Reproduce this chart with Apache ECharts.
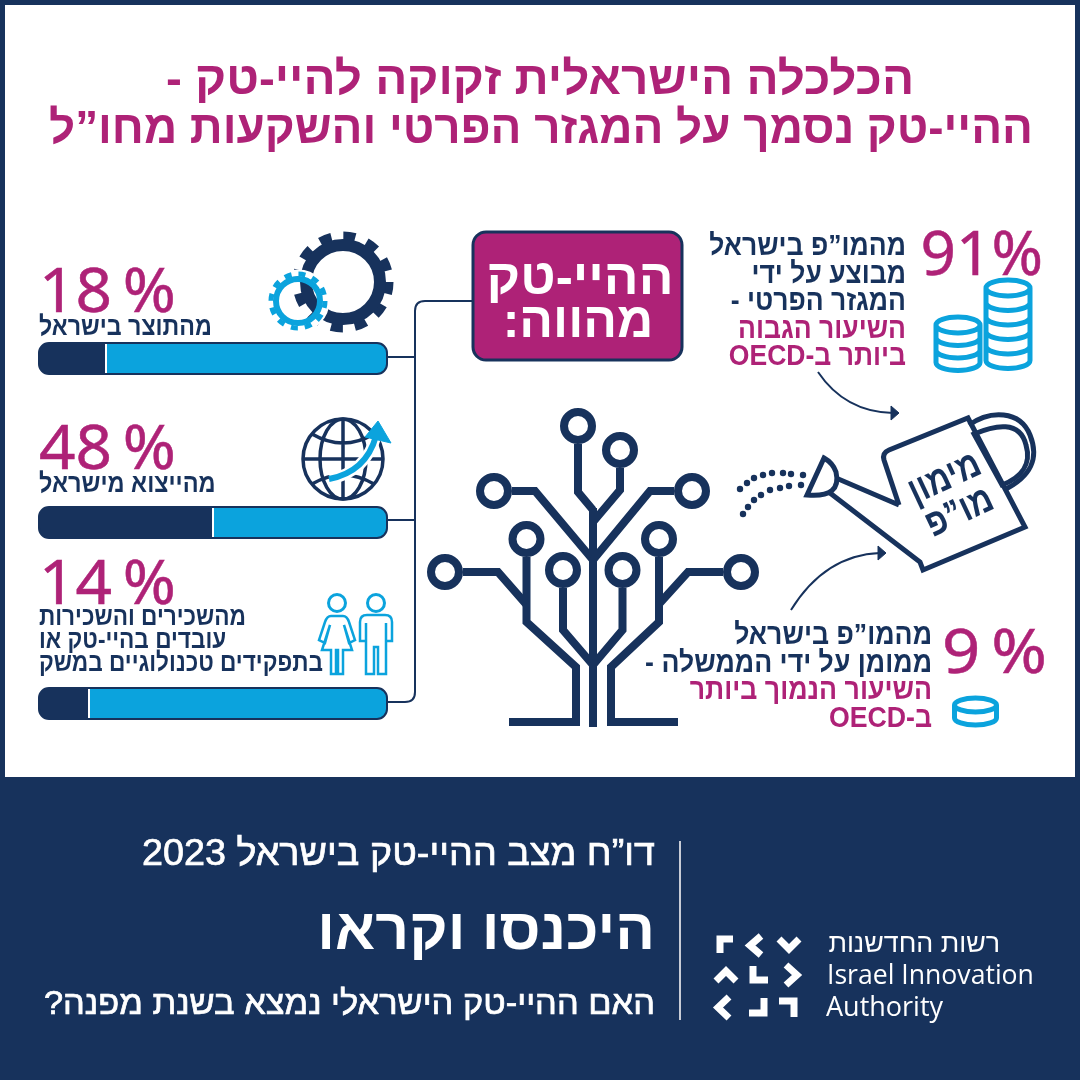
<![CDATA[<!DOCTYPE html>
<html lang="he" dir="rtl">
<head>
<meta charset="UTF-8">
<title>הכלכלה הישראלית זקוקה להיי-טק</title>
<script src="https://cdn.jsdelivr.net/npm/echarts@6/dist/echarts.min.js"></script>
<style>
html, body { margin: 0; padding: 0; background: #17325c; }
#chart { width: 1080px; height: 1080px; }
</style>
</head>
<body>
<div id="chart"></div>
<script>
// values
const titleLines = ['הכלכלה הישראלית זקוקה להיי-טק -', 'ההיי-טק נסמך על המגזר הפרטי והשקעות מחו”ל'];
const barCategories = ['מהתוצר בישראל', 'מהייצוא מישראל', 'מהשכירים והשכירות'];
const statedShares = [18, 48, 14];
// bar lengths as drawn in the picture, they run a little over the printed number
const drawnShares = [19.2, 50, 14.2];
const restShares = [80.8, 50, 85.8];
const privateShare = 91;
const governmentShare = 9;
const employeeLines = ['מהשכירים והשכירות', 'עובדים בהיי-טק או', 'בתפקידים טכנולוגיים במשק'];
const privateLines = ['מהמו”פ בישראל', 'מבוצע על ידי', 'המגזר הפרטי -', 'השיעור הגבוה', 'ביותר ב-OECD'];
const governmentLines = ['מהמו”פ בישראל', 'ממומן על ידי הממשלה -', 'השיעור הנמוך ביותר', 'ב-OECD'];
const boxLines = ['ההיי-טק', 'מהווה:'];
const canLines = ['מימון', 'מו”פ'];
const footerLines = ['דו”ח מצב ההיי-טק בישראל 2023', 'היכנסו וקראו', 'האם ההיי-טק הישראלי נמצא בשנת מפנה?'];
const logoLines = ['רשות החדשנות', 'Israel Innovation', 'Authority'];

const NAVY = '#17325c';
const MAGENTA = '#ae2277';
const BLUE = '#0ba3dd';
const HEB = '"Liberation Sans", "DejaVu Sans", sans-serif';
const NUM = '"Noto Sans", "Liberation Sans", sans-serif';

const barTops = [343, 507, 688];
const barLeft = 39, barWidth = 348, barHeight = 31;

// keeps "18 %" in reading order inside the rtl page
function pct(v, gap) {
  return '\u200e' + v + (gap ? '\u2009' : '') + '%\u200e';
}
function txt(text, x, y, size, color, align, weight, family, scaleX, thicken) {
  return {
    type: 'text', x: x, y: y, z: 20, scaleX: scaleX || 1, originX: 0, originY: 0,
    style: { text: text, fill: color, fontSize: size, fontWeight: weight || 'normal',
      fontFamily: family || HEB, align: align || 'right', verticalAlign: 'middle',
      stroke: thicken ? color : null, lineWidth: thicken || 0 }
  };
}
let shapeCount = 0;
function path(d, stroke, lw, fill, z) {
  const name = 'deco' + (shapeCount++);
  echarts.graphic.registerShape(name, echarts.graphic.extendPath(d, {}));
  return {
    type: name, z: z || 10,
    style: { stroke: stroke || 'none', lineWidth: lw || 0, fill: fill || 'none', lineJoin: 'miter', lineCap: 'butt', miterLimit: 8 }
  };
}
function ring(cx, cy, r, stroke, lw, z, dash) {
  return {
    type: 'circle', z: z || 10, shape: { cx: cx, cy: cy, r: r },
    style: { stroke: stroke, lineWidth: lw, fill: 'none', lineDash: dash || null }
  };
}
function gearDash(r, teeth) {
  const step = 2 * Math.PI * r / teeth / 2;
  return [step, step];
}
function coinStack(cx, top, rx, ry, n, gap) {
  let d = 'M' + (cx - rx) + ' ' + top + ' a' + rx + ' ' + ry + ' 0 1 1 ' + (2 * rx) + ' 0 a' + rx + ' ' + ry + ' 0 1 1 ' + (-2 * rx) + ' 0 ';
  for (let i = 1; i <= n; i++) {
    const y = top + i * gap;
    d += 'M' + (cx - rx) + ' ' + (y - gap) + ' V' + y + ' a' + rx + ' ' + ry + ' 0 0 0 ' + (2 * rx) + ' 0 V' + (y - gap) + ' ';
  }
  return d;
}

const gfx = [];
gfx.push({ type: 'rect', z: -1, shape: { x: 5, y: 5, width: 1070, height: 772 }, style: { fill: '#fff' } });

// title
gfx.push(txt(titleLines[0], 540, 81, 46, MAGENTA, 'center', 'bold', HEB, 1.035));
gfx.push(txt(titleLines[1], 541, 130, 46, MAGENTA, 'center', 'bold', HEB, 0.995));

// left column texts
const pctY = [294, 451, 586];
statedShares.forEach(function (v, i) {
  gfx.push(txt(pct(v, true), 39, pctY[i], 62, MAGENTA, 'left', 'normal', NUM, 1.03, 0.5));
});
gfx.push(txt(barCategories[0], 39, 328, 27, NAVY, 'left', 'bold', HEB, 0.86));
gfx.push(txt(barCategories[1], 39, 485, 27, NAVY, 'left', 'bold', HEB, 0.87));
[618, 641, 664].forEach(function (y, i) {
  gfx.push(txt(employeeLines[i], 39, y, 26, NAVY, 'left', 'bold', HEB, 0.87));
});

// frames over the bars
barTops.forEach(function (t) {
  gfx.push({ type: 'rect', z: 15, shape: { x: barLeft, y: t, width: barWidth, height: barHeight, r: 10 },
    style: { fill: 'none', stroke: NAVY, lineWidth: 2 } });
});

// connectors
gfx.push(path('M473 301 H425 Q415 301 415 311 V692 Q415 702 405 702 H387 M387 357 H415 M387 520 H415', NAVY, 2));

// main box
gfx.push({ type: 'rect', z: 12, shape: { x: 473, y: 232, width: 209, height: 128, r: 13 },
  style: { fill: MAGENTA, stroke: NAVY, lineWidth: 3 } });
gfx.push(txt(boxLines[0], 580, 280, 50, '#fff', 'center', 'bold', HEB, 1.03));
gfx.push(txt(boxLines[1], 578, 323, 50, '#fff', 'center', 'bold'));

// gears
gfx.push(ring(343, 282, 46, NAVY, 9, 10, gearDash(46, 12)));
gfx.push(ring(343, 282, 37, NAVY, 12, 10));
gfx.push(ring(298, 301, 28, '#fff', 7, 11));
gfx.push(ring(298, 301, 27, BLUE, 5, 12, gearDash(27, 12)));
gfx.push(ring(298, 301, 22, BLUE, 6, 12));

// globe
gfx.push(ring(343, 459, 40, NAVY, 3.5));
gfx.push({ type: 'ellipse', z: 10, shape: { cx: 343, cy: 459, rx: 23, ry: 40 }, style: { stroke: NAVY, lineWidth: 3.5, fill: 'none' } });
gfx.push(path('M343 419 V499 M303 459 H383 M312 434 Q343 452 374 434 M312 484 Q343 466 374 484', NAVY, 3.5));
gfx.push(path('M330 479 Q366 472 376 436', '#fff', 11, null, 11));
gfx.push(path('M329 479 Q366 472 376 436', BLUE, 6, null, 12));
gfx.push(path('M378 421 L391 443 L365 437 Z', BLUE, 1, BLUE, 12));

// people
gfx.push(ring(337, 603, 8.5, BLUE, 3));
gfx.push(ring(376, 603, 8.5, BLUE, 3));
gfx.push(path('M331 616 H343 Q347 616 349 622 L355 640 L349 643 L344 625 L352 650 H343 V674 H338 V650 H336 V674 H331 V650 H322 L330 625 L325 643 L319 640 L325 622 Q327 616 331 616 Z', BLUE, 2.5));
gfx.push(path('M360 641 V622 Q360 615 367 615 H385 Q392 615 392 622 V641 H386 V674 H378 V647 H374 V674 H366 V641 Z M366 623 V641 M386 623 V641', BLUE, 2.5));

// private share block
gfx.push(txt(pct(privateShare), 1043, 257, 62, MAGENTA, 'right', 'normal', NUM, 1.0, 0.5));
privateLines.forEach(function (s, i) {
  gfx.push(txt(s, 906, 247 + i * 27.5, 29, i < 3 ? NAVY : MAGENTA, 'right', 'bold', HEB, 0.915));
});
gfx.push(path(coinStack(1008, 288, 22, 8, 5, 14.5), BLUE, 5));
gfx.push(path(coinStack(958, 325, 22, 8, 3, 12.5), BLUE, 5));

// government share block
gfx.push(txt(pct(governmentShare, true), 1047, 655, 62, MAGENTA, 'right', 'normal', NUM, 1.08, 0.5));
governmentLines.forEach(function (s, i) {
  gfx.push(txt(s, 932, 636 + i * 27.5, 29, i < 2 ? NAVY : MAGENTA, 'right', 'bold', HEB, 0.92));
});
gfx.push(path(coinStack(975.5, 705, 21, 7, 1, 13), BLUE, 5));

// arrows
gfx.push(path('M818 372 Q845 412 893 413', NAVY, 2));
gfx.push(path('M891 406 L899 413 L891 420 Z', NAVY, 1, NAVY));
gfx.push(path('M791 610 Q825 555 880 553', NAVY, 2));
gfx.push(path('M878 546 L886 553 L878 560 Z', NAVY, 1, NAVY));

// tree
const treeLines = [
  'M578 444 V492 L593 510', 'M620 468 V490 L593 522',
  'M593 508 V727',
  'M512 491 H535 L593 560', 'M674 491 H650 L593 560',
  'M526.5 557 V622 L576 667 V722 H509', 'M659 557 V622 L611 667 V722 H678',
  'M563 588 V630 L593 665', 'M622.5 588 V630 L593 665',
  'M463 572 H498 L526 604', 'M723 572 H688 L659 604'
];
treeLines.forEach(function (d) { gfx.push(path(d, NAVY, 8)); });
[[578, 426], [620, 450], [494, 491], [692, 491], [526.5, 539], [659, 539], [563, 570], [622.5, 570], [445, 572], [741, 572]]
  .forEach(function (c) { gfx.push(ring(c[0], c[1], 14, NAVY, 8)); });

// watering can
gfx.push(path('M899 505 L884 460 Q882 453 889 450 L968 418 L1025 527 L923 570 L920 562 L830 493 M836 478 L899 505', NAVY, 5));
gfx.push(path('M824 458 L807 495 Q842 498 836 472 Q833 463 824 458 Z', NAVY, 5));
gfx.push(path('M969 425 C990 410 1020 410 1030 435 C1040 460 1030 477 1004 490', NAVY, 5));
gfx.push(path('M974 434 C995 425 1020 420 1026 445 C1032 465 1020 478 1002 485 Z', NAVY, 5));
const dropRows = [
  [[803, 475], [791, 474], [783, 473], [772, 473], [763, 475], [754, 478], [747, 483], [740, 489]],
  [[801, 485], [789, 486], [780, 488], [770, 490], [761, 495], [754, 500], [748, 507], [743, 514]]
];
dropRows.forEach(function (row) {
  row.forEach(function (p) {
    gfx.push({ type: 'circle', z: 10, shape: { cx: p[0], cy: p[1], r: 3.2 }, style: { fill: NAVY } });
  });
});
function canText(s, x, y) {
  const t = txt(s, x, y, 38, NAVY, 'center', 'bold', HEB, 0.85);
  t.rotation = 25 * Math.PI / 180;
  return t;
}
gfx.push(canText(canLines[0], 945, 479));
gfx.push(canText(canLines[1], 960, 513));

// footer
gfx.push(txt(footerLines[0], 655, 855, 37, '#fff', 'right', 'normal', HEB, 1.02, 0.7));
gfx.push(txt(footerLines[1], 655, 933, 58, '#fff', 'right', 'bold', HEB, 1.015));
gfx.push(txt(footerLines[2], 655, 1005, 34, '#fff', 'right', 'normal', HEB, 1.012, 0.7));
gfx.push({ type: 'rect', z: 10, shape: { x: 679, y: 841, width: 2, height: 179 }, style: { fill: '#c8ccd6' } });

// logo
const logoMarks = [
  'M733 939 H720 V953', 'M761 936 L750 945.5 L761 955', 'M779 939 L789 949 L799 939',
  'M716 981 L726 971 L736 981', 'M753 966 V980 H768', 'M786 965 L797 975 L786 985',
  'M729 997 L718 1007.5 L729 1018', 'M749 1013 H764 V998', 'M779 1001 H794 V1017'
];
logoMarks.forEach(function (d) { gfx.push(path(d, '#fff', 7)); });
gfx.push(txt(logoLines[0], 1000, 945, 26, '#fff', 'right', 'normal', HEB, 1.03));
gfx.push(txt(logoLines[1], 827, 976, 27, '#fff', 'left', 'normal', '"Open Sans", sans-serif', 0.985));
gfx.push(txt(logoLines[2], 826, 1008, 27, '#fff', 'left', 'normal', '"Open Sans", sans-serif'));

// share bars, one small grid per row
const grids = [], xAxes = [], yAxes = [], series = [];
barCategories.forEach(function (name, i) {
  grids.push({ left: barLeft, width: barWidth, top: barTops[i], height: barHeight });
  xAxes.push({ type: 'value', gridIndex: i, min: 0, max: 100, show: false });
  yAxes.push({ type: 'category', gridIndex: i, data: [name], show: false });
  series.push({
    type: 'bar', xAxisIndex: i, yAxisIndex: i, stack: 'row' + i, barWidth: '100%',
    data: [drawnShares[i]], itemStyle: { color: NAVY, borderRadius: [10, 0, 0, 10] }, silent: true,
    markLine: { silent: true, symbol: 'none', label: { show: false }, animation: false,
      lineStyle: { color: '#fff', width: 2, type: 'solid' }, data: [{ xAxis: drawnShares[i] }] }
  });
  series.push({
    type: 'bar', xAxisIndex: i, yAxisIndex: i, stack: 'row' + i, barWidth: '100%',
    data: [restShares[i]], itemStyle: { color: BLUE, borderRadius: [0, 10, 10, 0] }, silent: true
  });
});

const chart = echarts.init(document.getElementById('chart'), null, { renderer: 'canvas' });
chart.setOption({
  animation: false,
  backgroundColor: NAVY,
  tooltip: { show: false },
  grid: grids,
  xAxis: xAxes,
  yAxis: yAxes,
  series: series,
  graphic: { elements: gfx }
});
</script>
</body>
</html>
]]>
